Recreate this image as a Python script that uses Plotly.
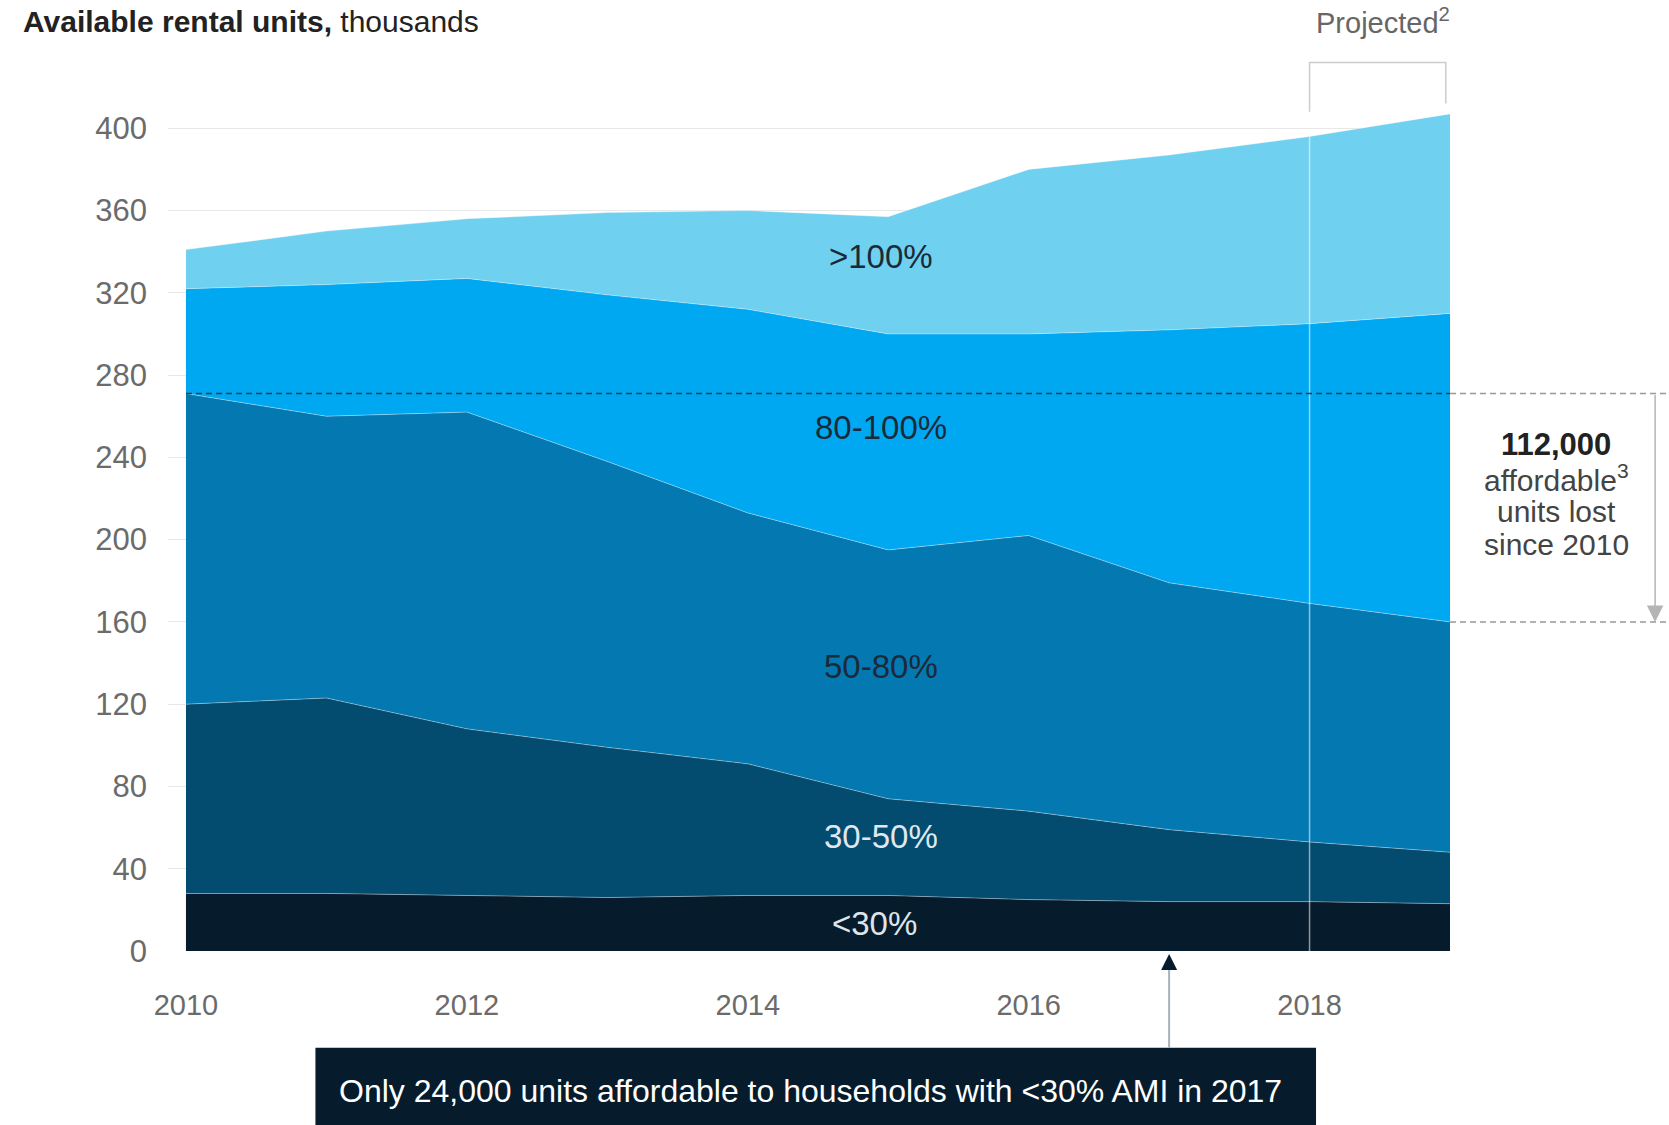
import plotly.graph_objects as go

years = [2010, 2011, 2012, 2013, 2014, 2015, 2016, 2017, 2018, 2019]
series_names = ["<30%", "30-50%", "50-80%", "80-100%", ">100%"]
lt30 = [28, 28, 27, 26, 27, 27, 25, 24, 24, 23]
ami30_50 = [92, 95, 81, 73, 64, 47, 43, 35, 29, 25]
ami50_80 = [151, 137, 154, 139, 122, 121, 134, 120, 116, 112]
ami80_100 = [51, 64, 65, 81, 99, 105, 98, 123, 136, 150]
gt100 = [19, 26, 29, 40, 48, 57, 80, 85, 91, 97]
y_ticks = [0, 40, 80, 120, 160, 200, 240, 280, 320, 360, 400]
x_ticks = [2010, 2012, 2014, 2016, 2018]
note_lines = ["<b>112,000</b>", "affordable<sup>3</sup>", "units lost", "since 2010"]

colors = ["#061c2c", "#034b6f", "#0479b1", "#00a8f2", "#6fd0f0"]
label_colors = ["#dfe4e8", "#dfe8ef", "#1a2a38", "#1a2a38", "#1a2a38"]
all_series = [lt30, ami30_50, ami50_80, ami80_100, gt100]

FONT = "Liberation Sans, Arial, sans-serif"

fig = go.Figure()
for name, vals, c in zip(series_names, all_series, colors):
    fig.add_trace(go.Scatter(
        x=years, y=vals, name=name, stackgroup="one", mode="lines",
        line=dict(width=1, color="rgba(255,255,255,0.35)"),
        fillcolor=c, hoverinfo="x+y+name"))

# cumulative values
cum = []
run = [0] * len(years)
for vals in all_series:
    run = [a + b for a, b in zip(run, vals)]
    cum.append(run)

affordable_start = cum[2][0]
affordable_end = cum[2][-1]
total = cum[-1]

# labels inside bands at 2015
li = years.index(2015)
label_offsets = [0, 5, 4, 7, 9]
annotations = []
prev = [0] * len(years)
for i, name in enumerate(series_names):
    mid = (prev[li] + cum[i][li]) / 2 + label_offsets[i]
    annotations.append(dict(x=2014.95 if i else 2014.9, y=mid, xref="x", yref="y", text=name,
                            showarrow=False, font=dict(family=FONT, size=33, color=label_colors[i])))
    prev = cum[i]

# title
annotations.append(dict(xref="paper", yref="paper", x=-0.1147, y=1.0276, xanchor="left", yanchor="middle",
                        text="<b>Available rental units,</b> thousands", showarrow=False,
                        font=dict(family=FONT, size=30, color="#222222")))
# projected
annotations.append(dict(xref="x", yref="paper", x=2018.52, y=1.0276, xanchor="center", yanchor="middle",
                        text="Projected<sup>2</sup>", showarrow=False,
                        font=dict(family=FONT, size=29, color="#666666")))
# right annotation, one line each
note_y = [0.5602, 0.5227, 0.4851, 0.4497]
for i, (txt, yy) in enumerate(zip(note_lines, note_y)):
    annotations.append(dict(xref="paper", yref="paper", x=1.0827, y=yy, xanchor="center", yanchor="middle",
                            text=txt, showarrow=False,
                            font=dict(family=FONT, size=31 if i == 0 else 30,
                                      color="#222222" if i == 0 else "#444444")))
# right arrow
annotations.append(dict(xref="paper", yref="y", x=1.16, y=affordable_end, axref="pixel", ayref="y",
                        ax=0, ay=affordable_start, showarrow=True, arrowhead=2, arrowsize=2.2,
                        arrowwidth=1.5, arrowcolor="#b5b5b5", text=""))
# bottom arrow head
annotations.append(dict(xref="x", yref="y", x=2017, y=0, ax=0, ay=16, showarrow=True,
                        arrowhead=2, arrowsize=1.6, arrowwidth=2, arrowcolor="#061c2c",
                        standoff=3, text=""))
# bottom box text
annotations.append(dict(xref="paper", yref="paper", x=0.132, y=-0.155, xanchor="left", yanchor="middle",
                        text="Only 24,000 units affordable to households with &lt;30% AMI in 2017",
                        showarrow=False, font=dict(family=FONT, size=32, color="#ffffff")))

shapes = [
    # 2018 projection line
    dict(type="line", xref="x", yref="y", x0=2018, x1=2018, y0=0, y1=total[years.index(2018)],
         line=dict(color="rgba(255,255,255,0.55)", width=1.5)),
    # bracket
    dict(type="path", xref="x", yref="y",
         path="M 2018 408 L 2018 432 L 2018.97 432 L 2018.97 412",
         line=dict(color="#cccccc", width=1.5)),
    # dashed affordable lines
    dict(type="line", xref="x", yref="y", x0=2010, x1=2019, y0=affordable_start, y1=affordable_start,
         line=dict(color="#2f3b45", width=1.5, dash="6px,4px")),
    dict(type="line", xref="paper", yref="y", x0=1.0, x1=1.171, y0=affordable_start, y1=affordable_start,
         line=dict(color="#999999", width=1.5, dash="6px,4px")),
    dict(type="line", xref="paper", yref="y", x0=1.0, x1=1.171, y0=affordable_end, y1=affordable_end,
         line=dict(color="#999999", width=1.5, dash="6px,4px")),
    # bottom box
    dict(type="rect", xref="paper", yref="paper", x0=0.115, x1=0.8955, y0=-0.107, y1=-0.2,
         fillcolor="#061c2c", line=dict(width=0)),
    # bottom arrow line
    dict(type="line", xref="x", yref="paper", x0=2017, x1=2017, y0=-0.107, y1=-0.02,
         line=dict(color="#a9b2ba", width=2)),
]

fig.update_layout(
    width=1669, height=1125,
    margin=dict(l=168, r=219, t=46, b=174),
    paper_bgcolor="white", plot_bgcolor="white",
    showlegend=False,
    annotations=annotations,
    shapes=shapes,
    xaxis=dict(range=[2009.872, 2019], tickvals=x_ticks, ticktext=[str(t) for t in x_ticks],
               showgrid=False, zeroline=False, showline=False, ticks="",
               ticklabelstandoff=34,
               tickfont=dict(family=FONT, size=29, color="#6b6b6b")),
    yaxis=dict(range=[0, 440], tickvals=y_ticks, showgrid=True, gridcolor="#e8e8e8", gridwidth=1,
               zeroline=False, showline=False, ticks="", ticklabelstandoff=20,
               tickfont=dict(family=FONT, size=31, color="#6b6b6b")),
)

fig.write_html("out.html")
